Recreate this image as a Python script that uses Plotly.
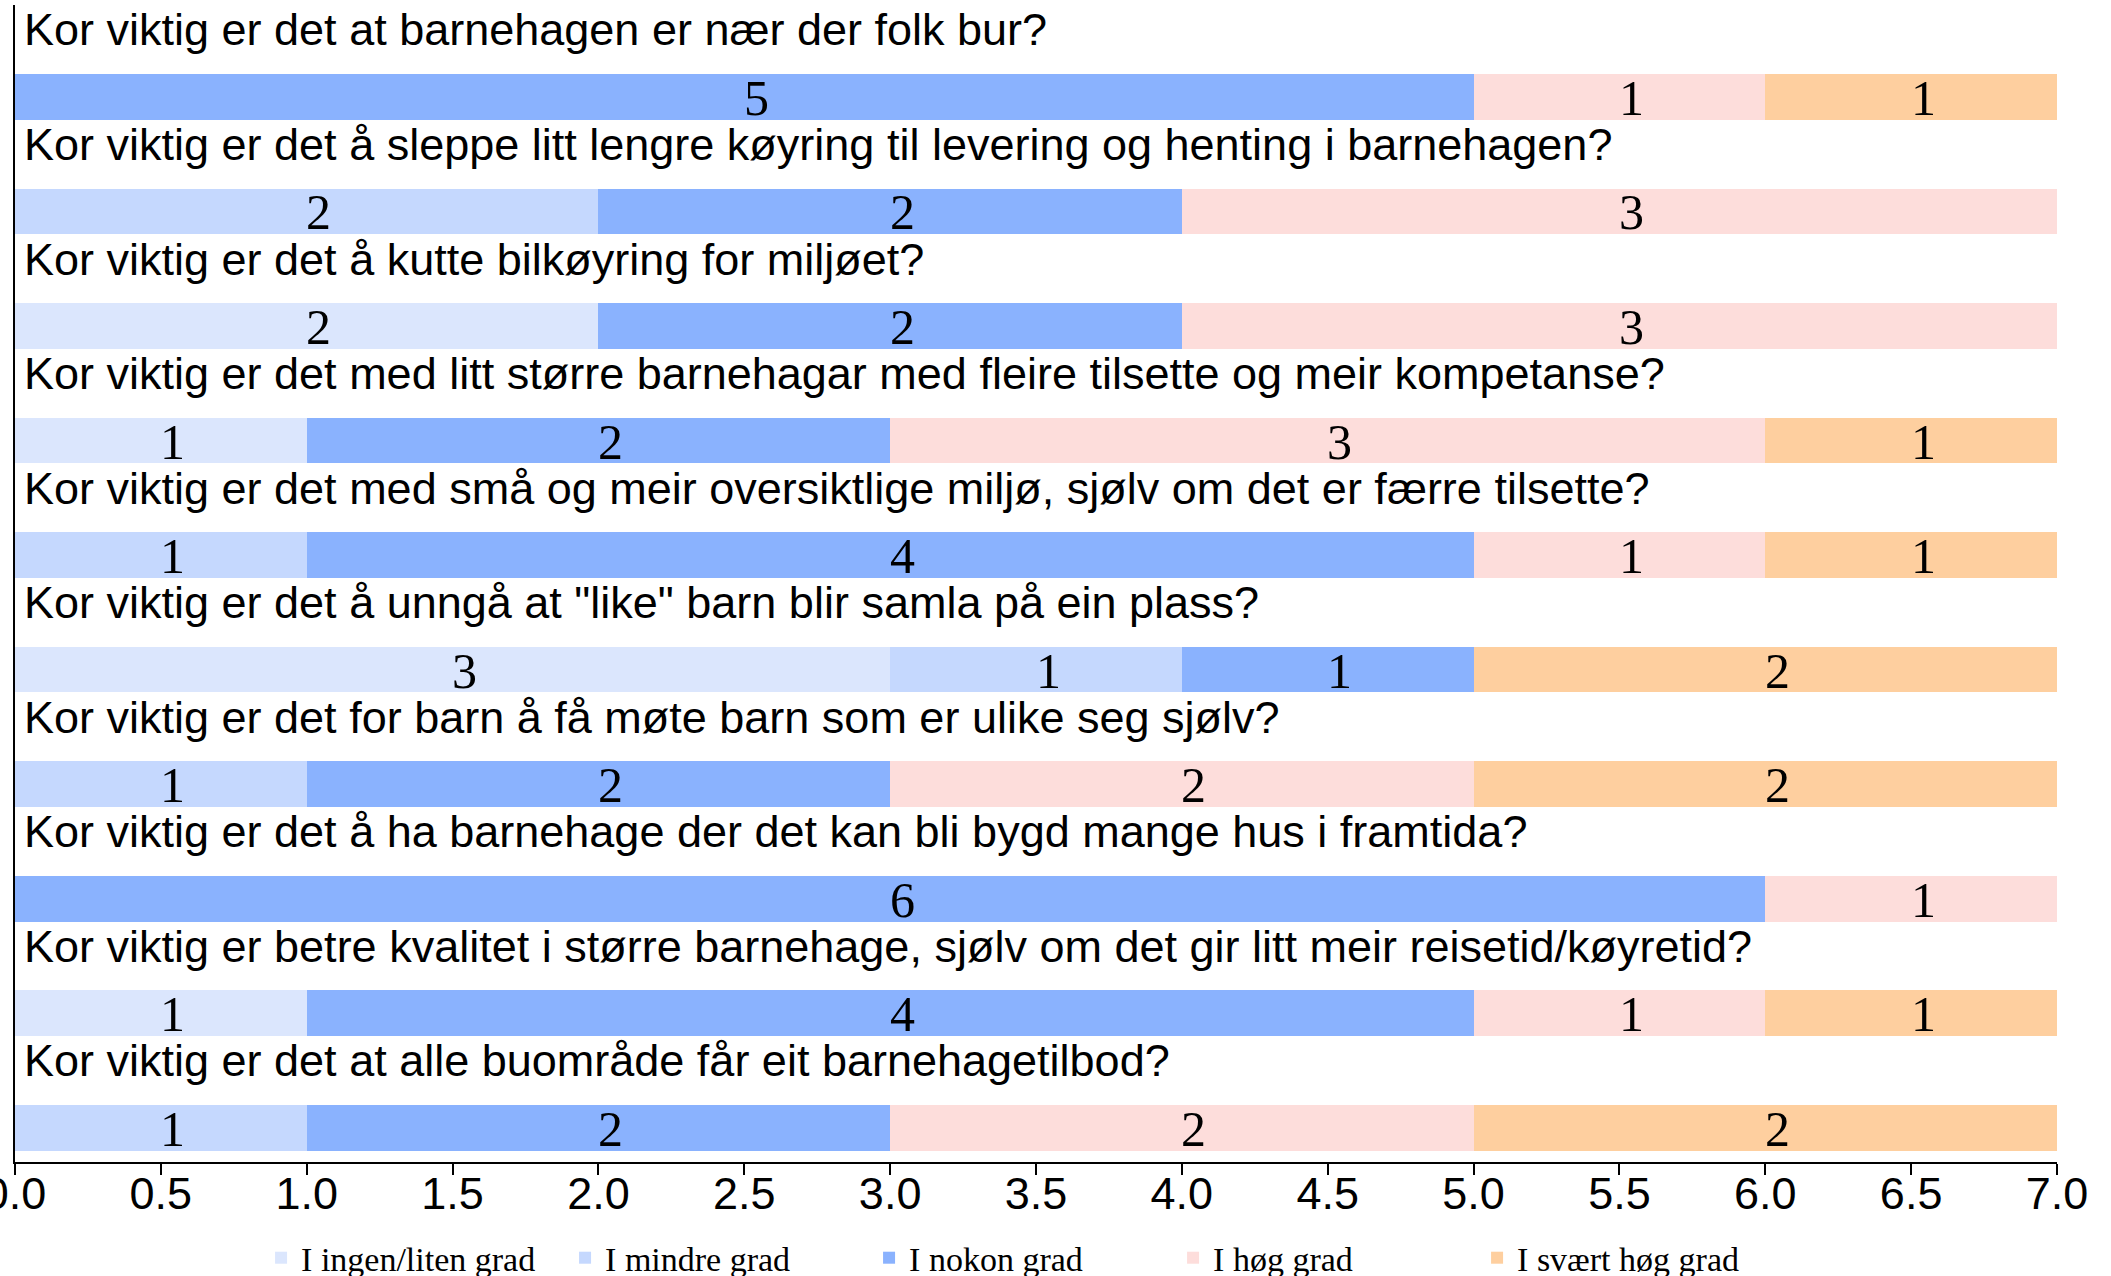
import plotly.graph_objects as go

questions = [
    "Kor viktig er det at barnehagen er nær der folk bur?",
    "Kor viktig er det å sleppe litt lengre køyring til levering og henting i barnehagen?",
    "Kor viktig er det å kutte bilkøyring for miljøet?",
    "Kor viktig er det med litt større barnehagar med fleire tilsette og meir kompetanse?",
    "Kor viktig er det med små og meir oversiktlige miljø, sjølv om det er færre tilsette?",
    "Kor viktig er det å unngå at \"like\" barn blir samla på ein plass?",
    "Kor viktig er det for barn å få møte barn som er ulike seg sjølv?",
    "Kor viktig er det å ha barnehage der det kan bli bygd mange hus i framtida?",
    "Kor viktig er betre kvalitet i større barnehage, sjølv om det gir litt meir reisetid/køyretid?",
    "Kor viktig er det at alle buområde får eit barnehagetilbod?",
]

series_names = ["I ingen/liten grad", "I mindre grad", "I nokon grad", "I høg grad", "I svært høg grad"]
series_colors = ["#dbe6fd", "#c5d8fe", "#8ab2fe", "#fddddb", "#fecf9f"]

ingen_liten = [0, 0, 2, 1, 0, 3, 0, 0, 1, 0]
mindre = [0, 2, 0, 0, 1, 1, 1, 0, 0, 1]
nokon = [5, 2, 2, 2, 4, 1, 2, 6, 4, 2]
hog = [1, 3, 3, 3, 1, 0, 2, 1, 1, 2]
svaert_hog = [1, 0, 0, 1, 1, 2, 2, 0, 1, 2]

series_values = [ingen_liten, mindre, nokon, hog, svaert_hog]

x_ticks = [i * 0.5 for i in range(15)]

fig = go.Figure()
for name, color, vals in zip(series_names, series_colors, series_values):
    fig.add_trace(go.Bar(
        y=questions,
        x=vals,
        name=name,
        orientation="h",
        marker=dict(color=color, line=dict(width=0)),
        hoverinfo="skip",
    ))

# value labels, placed at the middle of each stacked segment
cum = [0] * len(questions)
for vals in series_values:
    for i, (q, v) in enumerate(zip(questions, vals)):
        if v:
            fig.add_annotation(
                x=cum[i] + v / 2, y=q, xref="x", yref="y",
                text=str(v), showarrow=False,
                xanchor="center", yanchor="middle",
                xshift=12, yshift=-1,
                height=38, valign="middle", borderpad=0,
                font=dict(family="Liberation Serif", size=50, color="black"),
            )
        cum[i] += v

for q in questions:
    fig.add_annotation(
        x=0, y=q, xref="x", yref="y",
        text=q, showarrow=False,
        xanchor="left", yanchor="middle",
        xshift=7, yshift=67,
        font=dict(family="Liberation Sans", size=45, color="black"),
    )

fig.update_layout(
    width=2111, height=1276,
    barmode="stack",
    bargap=0.6,
    plot_bgcolor="white",
    paper_bgcolor="white",
    margin=dict(l=15, r=54, t=5, b=114, autoexpand=False),
    showlegend=True,
    legend=dict(
        orientation="h",
        x=0.1205, xanchor="left",
        y=-0.058, yanchor="top",
        font=dict(family="Liberation Serif", size=34, color="black"),
        entrywidth=259, entrywidthmode="pixels",
        traceorder="normal",
        itemclick=False, itemdoubleclick=False,
    ),
    font=dict(family="Liberation Sans", color="black"),
)

fig.update_xaxes(
    range=[0, 7],
    tickvals=x_ticks,
    tickformat=".1f",
    ticks="outside", ticklen=11, tickwidth=2, tickcolor="black",
    ticklabeloverflow="allow",
    ticklabelstandoff=-20,
    automargin=False,
    showline=True, linecolor="black", linewidth=2,
    showgrid=False, zeroline=False,
    tickfont=dict(family="Liberation Sans", size=45, color="black"),
)
fig.update_yaxes(
    categoryorder="array", categoryarray=questions,
    range=[9.30, -0.803],
    showticklabels=False,
    ticks="",
    automargin=False,
    showline=True, linecolor="black", linewidth=2,
    showgrid=False, zeroline=False,
)

fig.write_html(
    "out.html",
    config={"displayModeBar": False},
    post_script="document.body.style.margin='0';document.body.style.overflow='hidden';",
)
